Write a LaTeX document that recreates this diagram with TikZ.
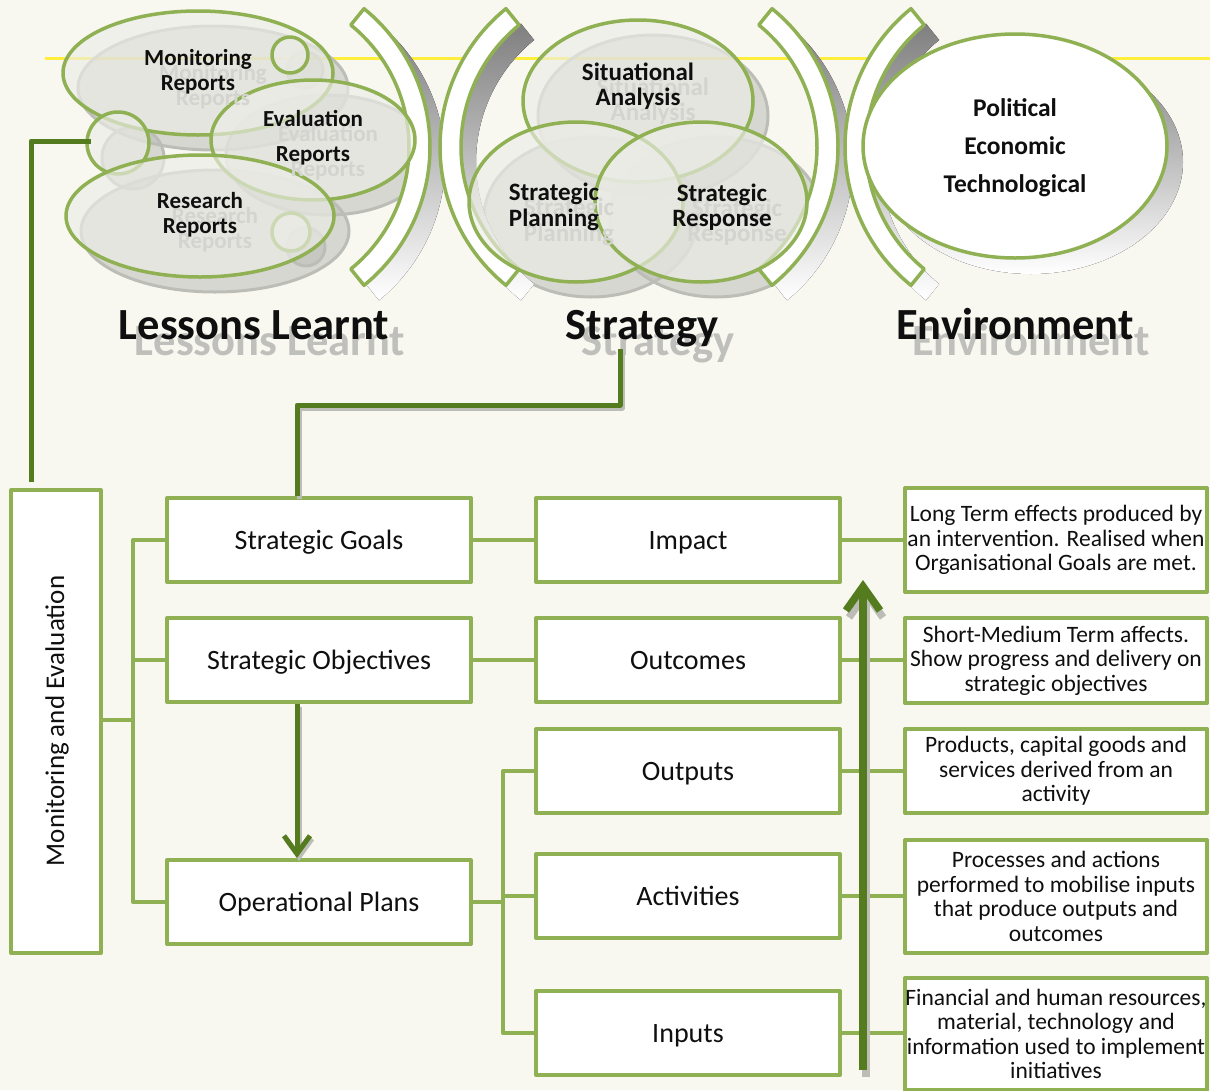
\documentclass[tikz,border=0pt]{standalone}
\usepackage{fontspec}
\setmainfont{Carlito}
\usetikzlibrary{arrows.meta}
\definecolor{paper}{HTML}{F8F8F1}
\definecolor{leaf}{HTML}{8FB153}
\definecolor{moss}{HTML}{547C1E}
\definecolor{shade}{HTML}{BDBDB8}
\definecolor{mist}{HTML}{EDEDE8}
\definecolor{ghosttxt}{HTML}{D3D3CF}
\definecolor{headghost}{HTML}{BFBFBB}
\definecolor{ink}{HTML}{0F0F0F}
\definecolor{sun}{HTML}{FFEE3C}

\tikzset{
  box/.style={draw=leaf, line width=4pt, fill=white, minimum width=304pt, minimum height=84pt,
    inner sep=0pt, text=ink, text height=18pt, text depth=0pt, font=\fontsize{28}{32}\selectfont},
  descbox/.style={draw=leaf, line width=4pt, fill=white, minimum width=302pt, inner sep=0pt,
    align=center, text=ink, font=\fontsize{23.5}{24.5}\selectfont},
  link/.style={draw=leaf, line width=4pt},
  strong/.style={draw=moss, line width=5pt},
  strongshade/.style={draw=shade, line width=5pt, transform canvas={shift={(2pt,-3pt)}}},
  oval/.style={draw=leaf, line width=3.5pt, fill=mist, fill opacity=0.65},
  ovalshade/.style={fill=shade, fill opacity=0.55, draw=shade, line width=3pt},
  ovaltext/.style={align=center, text=ink, font=\bfseries\fontsize{23}{25}\selectfont},
  ovalghost/.style={align=center, text=ghosttxt, font=\bfseries\fontsize{23}{25}\selectfont},
  stratext/.style={align=center, text=ink, font=\bfseries\fontsize{25}{25.5}\selectfont},
  straghost/.style={align=center, text=ghosttxt, font=\bfseries\fontsize{25}{25.5}\selectfont},
  heading/.style={anchor=base, text=ink, font=\bfseries\fontsize{44.5}{48}\selectfont},
  headshade/.style={anchor=base, text=headghost, font=\bfseries\fontsize{44.5}{48}\selectfont},
  band/.style={fill=white, draw=leaf, line width=3.5pt},
}

\begin{document}
\begin{tikzpicture}[x=1pt, y=-1pt, line join=round]
\useasboundingbox (0,0) rectangle (1210,1090);
\clip (0,0) rectangle (1210,1090);
\fill[paper] (0,0) rectangle (1210,1090);
\draw[sun, line width=3pt] (45,58) -- (1210,58);

% ---- shadows of the three clusters ----
\path[ovalshade] (213,88) ellipse [x radius=135, y radius=62];
\path[ovalshade] (305,70) circle [radius=18];
\path[ovalshade] (328,155) ellipse [x radius=102, y radius=60];
\path[ovalshade] (133,158) circle [radius=31];
\path[ovalshade] (306,247) circle [radius=19];
\path[ovalshade] (215,231) ellipse [x radius=134, y radius=61];
\path[ovalshade] (653,116) ellipse [x radius=115, y radius=81];
\path[ovalshade] (591,217) ellipse [x radius=107, y radius=80];
\path[ovalshade] (716,217) ellipse [x radius=106, y radius=80];
\fill[shade] (1031,162) ellipse [x radius=152, y radius=112];

% ---- curved separators ----
\foreach \cx/\a in {252/0, 618/180, 660/0, 1023/180}{
  \fill[shade] ({\cx+15},162) ++({\a-51}:178)
    arc[start angle={\a-51}, end angle={\a+51}, radius=178]
    -- ++({\a+51+180}:21)
    arc[start angle={\a+51}, end angle={\a-51}, radius=157] -- cycle;
}
\foreach \cx/\a in {252/0, 618/180, 660/0, 1023/180}{
  \path[band] (\cx,147) ++({\a-51}:178)
    arc[start angle={\a-51}, end angle={\a+51}, radius=178]
    -- ++({\a+51+180}:21)
    arc[start angle={\a+51}, end angle={\a-51}, radius=157] -- cycle;
}

% ---- Lessons Learnt cluster ----
\path[oval] (198,73) ellipse [x radius=135, y radius=62];
\path[oval] (290,55) circle [radius=18];
\path[oval] (313,140) ellipse [x radius=102, y radius=60];
\path[oval] (118,143) circle [radius=31];
\path[oval] (291,232) circle [radius=19];
\path[oval] (200,216) ellipse [x radius=134, y radius=61];

\node[ovalghost] (gmon) at (213,87) {Monitoring\\Reports};
\node[ovalghost, font=\bfseries\fontsize{23}{35}\selectfont] (geva) at (328,153) {Evaluation\\Reports};
\node[ovalghost] (gres) at (215,230) {Research\\Reports};
\node[ovaltext] (tmon) at (198,72) {Monitoring\\Reports};
\node[ovaltext, font=\bfseries\fontsize{23}{35}\selectfont] (teva) at (313,138) {Evaluation\\Reports};
\node[ovaltext] (tres) at (200,215) {Research\\Reports};

% ---- Strategy cluster ----
\path[oval] (638,101) ellipse [x radius=115, y radius=81];
\path[oval] (576,202) ellipse [x radius=107, y radius=80];
\path[oval] (701,202) ellipse [x radius=106, y radius=80];

\node[straghost] (gsit) at (653,101) {Situational\\Analysis};
\node[straghost] (gpla) at (569,222) {Strategic\\Planning};
\node[straghost] (gresp) at (737,222) {Strategic\\Response};
\node[stratext] (tsit) at (638,86) {Situational\\Analysis};
\node[stratext] (tpla) at (554,207) {Strategic\\Planning};
\node[stratext] (tresp) at (722,207) {Strategic\\Response};

% ---- Environment ----
\path[draw=leaf, line width=3.5pt, fill=white] (1015,146) ellipse [x radius=152, y radius=112];
\node[align=center, text=ink, font=\bfseries\fontsize{25.5}{38}\selectfont] (tenv) at (1015,148)
  {Political\\Economic\\Technological};

% ---- headings ----
\node[headshade] (gll) at (270,355) {Lessons Learnt};
\node[headshade] (gst) at (658,355) {Strategy};
\node[headshade] (gen) at (1031,355) {Environment};
\node[heading] (hll) at (254,339) {Lessons Learnt};
\node[heading] (hst) at (642,339) {Strategy};
\node[heading] (hen) at (1015,339) {Environment};

% ---- results chain ----
\node[box, minimum width=90pt, minimum height=463pt] (me) at (56,721.5) {};
\node[rotate=90, text=ink, font=\fontsize{27}{30}\selectfont] (metxt) at (57,721) {Monitoring and Evaluation};

\node[box] (sg) at (319,540) {Strategic Goals};
\node[box] (so) at (319,660) {Strategic Objectives};
\node[box] (op) at (319,902) {Operational Plans};
\node[box] (imp) at (688,540) {Impact};
\node[box] (outc) at (688,660) {Outcomes};
\node[box] (outp) at (688,771) {Outputs};
\node[box] (act) at (688,896) {Activities};
\node[box] (inp) at (688,1033) {Inputs};

\node[descbox, minimum height=104pt] (dimp) at (1056,540)
  {Long Term effects produced by\\an intervention. Realised when\\Organisational Goals are met.};
\node[descbox, minimum height=85pt] (doutc) at (1056,660.5)
  {Short-Medium Term affects.\\Show progress and delivery on\\strategic objectives};
\node[descbox, minimum height=84pt] (doutp) at (1056,771)
  {Products, capital goods and\\services derived from an\\activity};
\node[descbox, minimum height=113pt] (dact) at (1056,896.5)
  {Processes and actions\\performed to mobilise inputs\\that produce outputs and\\outcomes};
\node[descbox, minimum height=112pt] (dinp) at (1056,1034)
  {Financial and human resources,\\material, technology and\\information used to implement\\initiatives};

\coordinate (lb) at (133,720);
\coordinate (rb) at (503,902);
\draw[link] (me.east |- lb) -- (lb);
\draw[link] (lb) |- (sg.west);
\draw[link] (lb) |- (so.west);
\draw[link] (lb) |- (op.west);
\draw[link] (op.east) -- (rb);
\draw[link] (rb) |- (outp.west);
\draw[link] (rb) |- (act.west);
\draw[link] (rb) |- (inp.west);
\draw[link] (sg.east) -- (imp.west);
\draw[link] (so.east) -- (outc.west);
\foreach \m/\d in {imp/dimp, outc/doutc, outp/doutp, act/dact, inp/dinp}{
  \draw[link] (\m.east) -- (\m.east -| \d.west);
}

% ---- dark connectors ----
\coordinate (mefoot) at (31,482);
\coordinate (ringl) at (91,141);
\coordinate (stfoot) at (620,349);
\coordinate (bend) at (297,405);
\coordinate (riseA) at (863,1070);
\coordinate (riseB) at (863,580);

\draw[strong] (mefoot) |- (ringl);
\draw[strongshade] (stfoot) |- (bend) -- (sg.north -| bend);
\draw[strong] (stfoot) |- (bend) -- (sg.north -| bend);
\draw[strongshade, -{Straight Barb[length=18pt,width=26pt]}] (so.south -| bend) -- (op.north -| bend);
\draw[strong, -{Straight Barb[length=18pt,width=26pt]}] (so.south -| bend) -- (op.north -| bend);
\draw[strongshade, line width=7.5pt, transform canvas={shift={(1pt,-4pt)}}, -{Straight Barb[length=24pt,width=34pt]}] (riseA) -- (riseB);
\draw[strong, line width=7.5pt, -{Straight Barb[length=24pt,width=34pt]}] (riseA) -- (riseB);
\end{tikzpicture}
\end{document}
